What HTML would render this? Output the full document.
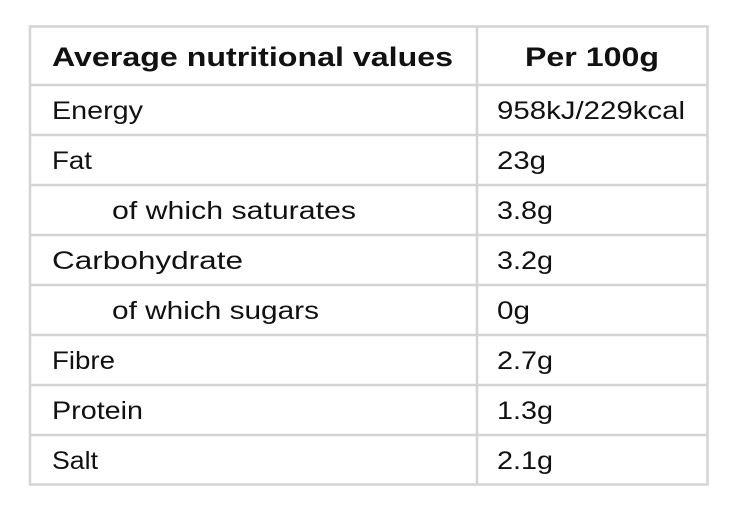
<!DOCTYPE html>
<html><head><meta charset="utf-8"><style>html,body{margin:0;padding:0;background:#fff;width:734px;height:508px;overflow:hidden}</style></head>
<body>
<svg width="734" height="508" xmlns="http://www.w3.org/2000/svg" font-family="Liberation Sans, sans-serif" fill="#111">
<g stroke="#d4d4d4" stroke-width="2.5" fill="none">
<rect x="30" y="26.5" width="677.5" height="458"/>
<line x1="477" y1="26.5" x2="477" y2="484.5"/>
<line x1="30" y1="85" x2="707.5" y2="85"/>
<line x1="30" y1="135" x2="707.5" y2="135"/>
<line x1="30" y1="185" x2="707.5" y2="185"/>
<line x1="30" y1="235" x2="707.5" y2="235"/>
<line x1="30" y1="285" x2="707.5" y2="285"/>
<line x1="30" y1="335" x2="707.5" y2="335"/>
<line x1="30" y1="385" x2="707.5" y2="385"/>
<line x1="30" y1="435" x2="707.5" y2="435"/>
</g>
<g font-size="27" font-weight="bold">
<text x="52" y="66" textLength="401" lengthAdjust="spacingAndGlyphs">Average nutritional values</text>
<text x="525" y="66" textLength="134" lengthAdjust="spacingAndGlyphs">Per 100g</text>
</g>
<g font-size="25">
<text x="52" y="119" textLength="91" lengthAdjust="spacingAndGlyphs">Energy</text>
<text x="52" y="169" textLength="40" lengthAdjust="spacingAndGlyphs">Fat</text>
<text x="112" y="219" textLength="244" lengthAdjust="spacingAndGlyphs">of which saturates</text>
<text x="52" y="269" textLength="191" lengthAdjust="spacingAndGlyphs">Carbohydrate</text>
<text x="112" y="319" textLength="207" lengthAdjust="spacingAndGlyphs">of which sugars</text>
<text x="52" y="369" textLength="63" lengthAdjust="spacingAndGlyphs">Fibre</text>
<text x="52" y="419" textLength="91" lengthAdjust="spacingAndGlyphs">Protein</text>
<text x="52" y="469" textLength="46" lengthAdjust="spacingAndGlyphs">Salt</text>
<text x="497" y="119" textLength="188" lengthAdjust="spacingAndGlyphs">958kJ/229kcal</text>
<text x="497" y="169" textLength="49" lengthAdjust="spacingAndGlyphs">23g</text>
<text x="497" y="219" textLength="56" lengthAdjust="spacingAndGlyphs">3.8g</text>
<text x="497" y="269" textLength="56" lengthAdjust="spacingAndGlyphs">3.2g</text>
<text x="497" y="319" textLength="33" lengthAdjust="spacingAndGlyphs">0g</text>
<text x="497" y="369" textLength="56" lengthAdjust="spacingAndGlyphs">2.7g</text>
<text x="497" y="419" textLength="56" lengthAdjust="spacingAndGlyphs">1.3g</text>
<text x="497" y="469" textLength="56" lengthAdjust="spacingAndGlyphs">2.1g</text>
</g>
</svg>
</body></html>
